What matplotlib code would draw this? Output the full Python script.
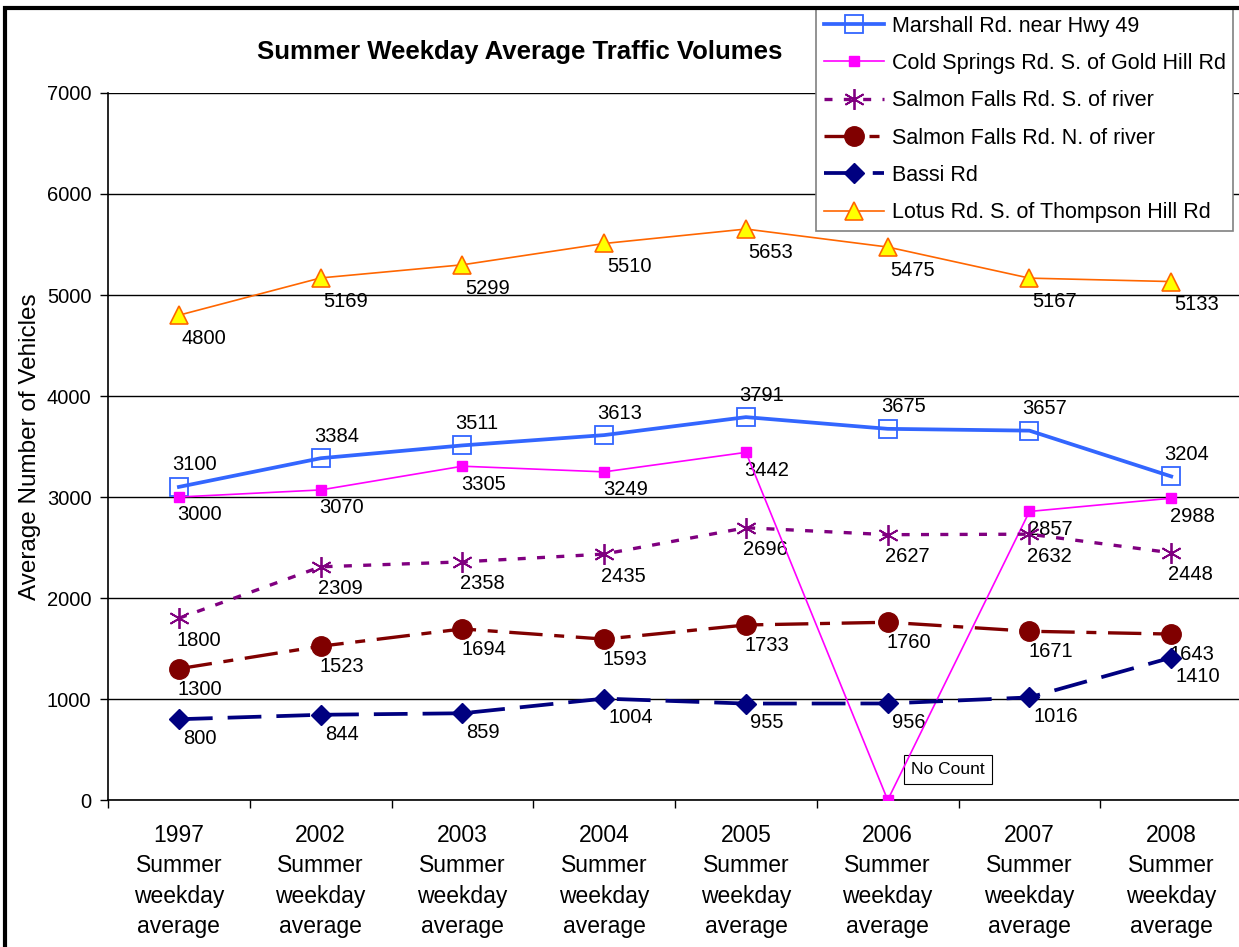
import matplotlib.pyplot as plt
from matplotlib.patches import Rectangle

plt.rcParams['font.family'] = ['Liberation Sans', 'DejaVu Sans']

years = ["1997", "2002", "2003", "2004", "2005", "2006", "2007", "2008"]
marshall = [3100, 3384, 3511, 3613, 3791, 3675, 3657, 3204]
cold_springs = [3000, 3070, 3305, 3249, 3442, 0, 2857, 2988]
salmon_s = [1800, 2309, 2358, 2435, 2696, 2627, 2632, 2448]
salmon_n = [1300, 1523, 1694, 1593, 1733, 1760, 1671, 1643]
bassi = [800, 844, 859, 1004, 955, 956, 1016, 1410]
lotus = [4800, 5169, 5299, 5510, 5653, 5475, 5167, 5133]

names = ["Marshall Rd. near Hwy 49", "Cold Springs Rd. S. of Gold Hill Rd",
         "Salmon Falls Rd. S. of river", "Salmon Falls Rd. N. of river",
         "Bassi Rd", "Lotus Rd. S. of Thompson Hill Rd"]

fig = plt.figure(figsize=(12.39, 9.47), dpi=100)
ax = fig.add_axes([0.0872, 0.1552, 0.9153, 0.7466])
x = list(range(len(years)))

ax.plot(x, marshall, color='#3366ff', lw=2.7, marker='s', ms=13,
        mfc='none', mec='#3366ff', mew=1.3, label=names[0], zorder=5)
ax.plot(x, cold_springs, color='#ff00ff', lw=1.2, marker='s', ms=7,
        label=names[1], zorder=5)
ax.plot(x, salmon_s, color='#800080', lw=2.4, ls=(0, (2.4, 3.4)),
        marker=(6, 2, 0), ms=15, mew=1.3, label=names[2], zorder=5)
ax.plot(x, salmon_n, color='#800000', lw=2.4, ls=(0, (10, 3.5, 3, 3.5)),
        marker='o', ms=14, label=names[3], zorder=5)
ax.plot(x, bassi, color='#000080', lw=2.7, ls=(0, (9, 4)),
        marker='D', ms=10, label=names[4], zorder=5)
ax.plot(x, lotus, color='#ff6600', lw=1.2, marker='^', ms=13,
        mfc='#ffff00', mec='#ff6600', mew=1.2, label=names[5], zorder=5)

# data labels
fs = 14.5
for i in x:
    ax.annotate(str(marshall[i]), (i, marshall[i]), xytext=(-5, 9),
                textcoords='offset points', ha='left', va='bottom', fontsize=fs)
    if cold_springs[i] > 0:
        ax.annotate(str(cold_springs[i]), (i, cold_springs[i]), xytext=(-1, -6),
                    textcoords='offset points', ha='left', va='top', fontsize=fs)
    ax.annotate(str(salmon_s[i]), (i, salmon_s[i]), xytext=(-2, -9),
                textcoords='offset points', ha='left', va='top', fontsize=fs)
    ax.annotate(str(salmon_n[i]), (i, salmon_n[i]), xytext=(-1, -8),
                textcoords='offset points', ha='left', va='top', fontsize=fs)
    ax.annotate(str(bassi[i]), (i, bassi[i]), xytext=(3, -7),
                textcoords='offset points', ha='left', va='top', fontsize=fs)
    ax.annotate(str(lotus[i]), (i, lotus[i]), xytext=(2, -10),
                textcoords='offset points', ha='left', va='top', fontsize=fs)

ax.annotate("No Count", (5, 0), xytext=(17, 22), textcoords='offset points',
            ha='left', va='center', fontsize=12.5,
            bbox=dict(boxstyle='square,pad=0.4', fc='white', ec='black', lw=0.8))

ax.set_xlim(-0.5, 7.5)
ax.set_ylim(0, 7000)
ax.set_yticks(range(0, 7001, 1000))
ax.tick_params(axis='y', labelsize=14.5, length=6, pad=6, direction='out', width=1)
ax.set_xticks(x)
ax.set_xticklabels([y + "\nSummer\nweekday\naverage" for y in years],
                   fontsize=16.5, linespacing=1.42)
ax.set_xticks([i - 0.5 for i in range(len(years) + 1)], minor=True)
ax.tick_params(axis='x', which='major', length=0, pad=17)
ax.tick_params(axis='x', which='minor', length=6, width=1)
ax.yaxis.grid(True, color='black', lw=1)
ax.set_axisbelow(True)
for s in ['top', 'right']:
    ax.spines[s].set_visible(False)
ax.spines['left'].set_linewidth(1.2)
ax.spines['bottom'].set_linewidth(1.2)

fig.text(30 / 1239, 1 - 447 / 947, "Average Number of Vehicles", rotation=90,
         ha='center', va='center', fontsize=17.5)
fig.text(520 / 1239, 1 - 52 / 947, "Summer Weekday Average Traffic Volumes",
         ha='center', va='center', fontsize=18.5, fontweight='bold')

leg = fig.legend(loc='upper left', bbox_to_anchor=(816 / 1239, 1 - 8 / 947),
                 fontsize=15.5, handlelength=2.8, labelspacing=0.76,
                 borderpad=0.35, handletextpad=0.37, borderaxespad=0,
                 fancybox=False, framealpha=1, edgecolor='#808080')
leg.get_frame().set_linewidth(1.2)

fig.patches.append(Rectangle((5 / 1239, -0.05), 1.2, 1 - 8 / 947 + 0.05,
                             transform=fig.transFigure, fill=False,
                             ec='black', lw=3, zorder=10))

fig.savefig("out.png", dpi=100)
